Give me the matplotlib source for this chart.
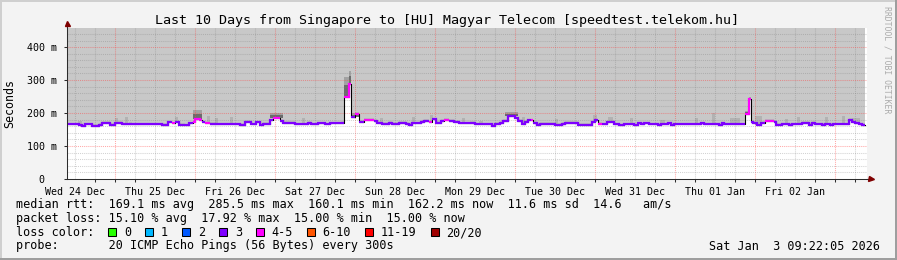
import matplotlib

matplotlib.use("Agg")
import matplotlib.pyplot as plt
from matplotlib.patches import Rectangle
import numpy as np

plt.rcParams["font.family"] = ["DejaVu Sans Mono"]

TITLE = "Last 10 Days from Singapore to [HU] Magyar Telecom [speedtest.telekom.hu]"
DAY_LABELS = ["Wed 24 Dec", "Thu 25 Dec", "Fri 26 Dec", "Sat 27 Dec", "Sun 28 Dec",
              "Mon 29 Dec", "Tue 30 Dec", "Wed 31 Dec", "Thu 01 Jan", "Fri 02 Jan"]
SPAN_H = 240.0          # hours shown
FIRST_MIDNIGHT_H = 14.4  # hours from left edge to first day line
FIRST_LABEL_H = 2.4
Y_MAX = 458.0            # ms
Y_TICKS = [0, 100, 200, 300, 400]
Y_TICK_LABELS = ["0  ", "100 m", "200 m", "300 m", "400 m"]

# median rtt as steps: end of each step (hours from left edge), median (ms),
# loss bin (index into LOSS_BINS)
RUN_END = [3.6, 4.5, 5.4, 7.5, 9.6, 10.5, 12.9, 14.4, 16.5, 18.6, 19.5, 28.5, 30.3,
           31.5, 32.4, 33.6, 35.4, 36.6, 37.8, 38.4, 39.9, 40.5, 41.4, 42.9, 45.3,
           51.9, 53.4, 55.2, 56.7, 57.9, 58.8, 60.9, 61.8, 63.9, 64.8, 68.4, 72.3,
           73.2, 75.3, 77.4, 78.9, 82.2, 83.1, 84.6, 85.2, 86.4, 87.6, 89.1, 92.1,
           93.0, 94.5, 96.6, 97.5, 99.6, 101.7, 102.6, 103.5, 106.2, 107.1, 108.6,
           109.5, 110.7, 112.2, 113.1, 114.6, 116.1, 117.6, 120.9, 122.4, 127.5,
           128.4, 129.9, 130.8, 132.3, 134.4, 135.3, 136.5, 137.4, 138.3, 139.2,
           139.8, 141.0, 141.9, 146.4, 148.5, 149.4, 153.3, 154.5, 157.5, 158.4,
           159.3, 160.5, 162.0, 162.6, 164.1, 165.6, 167.1, 170.1, 171.3, 172.2,
           173.1, 174.6, 177.3, 178.2, 180.3, 181.2, 182.1, 190.2, 191.1, 195.6,
           196.5, 197.1, 203.4, 204.6, 205.2, 205.8, 207.0, 208.2, 209.4, 212.1,
           212.7, 214.5, 216.6, 217.5, 220.5, 222.6, 223.5, 224.4, 226.5, 227.4,
           228.9, 229.8, 234.6, 235.5, 236.4, 237.6, 238.5, 239.4]
MEDIAN = [166, 164, 160, 166, 161, 164, 171, 164, 171, 166, 168, 166, 164,
          172, 169, 174, 165, 163, 169, 173, 182, 178, 172, 171, 167,
          166, 164, 173, 166, 172, 163, 167, 178, 186, 177, 170, 166,
          170, 166, 169, 166, 169, 171, 249, 287, 189, 197, 174, 179,
          176, 171, 168, 171, 168, 171, 168, 164, 169, 174, 177,
          172, 181, 171, 176, 179, 176, 173, 169, 170, 166,
          161, 167, 171, 176, 192, 184, 176, 166, 174, 178,
          178, 171, 164, 167, 164, 167, 171, 164, 165, 172,
          178, 167, 166, 172, 174, 166, 163, 166, 163, 169,
          166, 169, 166, 163, 166, 169, 163, 166, 169, 166,
          163, 169, 166, 197, 242, 174, 171, 165, 171, 177,
          174, 164, 166, 164, 166, 170, 164, 170, 166, 164,
          166, 164, 166, 180, 174, 171, 166, 164]
LOSS = [3, 3, 3, 3, 3, 3, 3, 3, 3, 3, 3, 3, 3,
        3, 4, 3, 3, 3, 3, 4, 4, 4, 3, 4, 3,
        3, 3, 3, 3, 3, 3, 3, 3, 4, 3, 3, 3,
        3, 3, 3, 3, 3, 3, 4, 4, 3, 4, 3, 4,
        3, 3, 3, 3, 3, 3, 3, 3, 3, 3, 3,
        4, 3, 3, 3, 4, 3, 3, 3, 3, 3,
        3, 3, 3, 3, 3, 3, 3, 3, 3, 3,
        4, 3, 3, 3, 3, 3, 3, 3, 3, 3,
        3, 4, 3, 3, 3, 3, 3, 3, 3, 3,
        3, 3, 3, 3, 3, 3, 3, 3, 3, 3,
        3, 3, 3, 4, 4, 3, 3, 3, 3, 4,
        3, 3, 3, 3, 3, 3, 3, 3, 3, 3,
        3, 3, 3, 3, 3, 3, 3, 3]

# smoke above the median: (start h, end h, top ms)
LIGHT_SMOKE = [(3.3, 4.5, 177), (14.4, 15.3, 185), (17.4, 18.3, 188), (32.4, 33.3, 188),
               (42.0, 42.9, 191), (44.4, 45.3, 185), (48.9, 49.8, 188), (70.5, 71.4, 186),
               (93.9, 94.8, 185), (103.5, 104.4, 188), (108.9, 109.8, 194),
               (118.5, 119.4, 185), (123.6, 124.8, 177), (136.5, 137.4, 188),
               (146.4, 147.3, 183), (157.8, 159.0, 194), (162.3, 163.8, 188),
               (168.9, 169.8, 185), (177.9, 179.4, 180), (188.4, 189.3, 185),
               (193.5, 194.4, 200), (198.9, 201.9, 185), (206.4, 208.5, 191),
               (215.4, 216.3, 183), (219.0, 219.9, 188), (227.4, 228.3, 189),
               (232.5, 233.4, 191), (235.5, 237.9, 185)]
DARK_SMOKE = [(37.8, 40.5, 209), (60.9, 64.8, 200), (83.1, 84.6, 310), (84.6, 85.2, 327),
              (85.2, 87.6, 200), (131.4, 135.3, 203), (203.4, 204.6, 205), (204.6, 205.2, 249)]

LOSS_BINS = ["0", "1", "2", "3", "4-5", "6-10", "11-19", "20/20"]
LOSS_COLORS = ["#26ff00", "#00b8ff", "#0059ff", "#7e00ff", "#ff00ff", "#ff5500", "#ff0000", "#a00000"]

LEGEND_RTT = "median rtt:  169.1 ms avg  285.5 ms max  160.1 ms min  162.2 ms now  11.6 ms sd  14.6   am/s"
LEGEND_LOSS = "packet loss: 15.10 % avg  17.92 % max  15.00 % min  15.00 % now"
LEGEND_PROBE = "probe:       20 ICMP Echo Pings (56 Bytes) every 300s"
STAMP = "Sat Jan  3 09:22:05 2026"

BG = "#f3f3f3"
AXIS = "#2c2c2c"
ARROW = "#7f0000"
W, H = 897, 260


def fx(x):
    return x / W


def fy(y):
    return 1 - y / H


fig = plt.figure(figsize=(W / 100, H / 100), dpi=100, facecolor=BG)
ax = fig.add_axes([fx(67), fy(179), 800 / W, 151 / H])
ax.set_facecolor("white")
ax.set_xlim(0, SPAN_H)
ax.set_ylim(0, Y_MAX)

ends = np.array(RUN_END)
starts = np.concatenate([[0.0], ends[:-1]])
med = np.array(MEDIAN, float)
sx = np.column_stack([starts, ends]).ravel()
sy = np.repeat(med, 2)

# lost pings -> smoke up to the top of the graph
ax.fill_between(sx, sy, Y_MAX, color="#c8c8c8", lw=0, zorder=1)
ax.fill_between(sx, sy, sy + 5, color="#bababa", lw=0, zorder=1.1)


def med_at(a, b):
    return med[min(np.searchsorted(ends, (a + b) / 2), len(med) - 1)]


for a, b, top in LIGHT_SMOKE:
    base = med_at(a, b)
    ax.fill_between([a, b], base, top, color="#b2b2b2", lw=0, zorder=1.2)
for a, b, top in DARK_SMOKE:
    base = med_at(a, b)
    ax.fill_between([a, b], base, top, color="#a2a2a2", lw=0, zorder=1.3)
    ax.fill_between([a, b], base, base + 0.6 * (top - base), color="#6c6c6c", lw=0, zorder=1.4)

# grid
for k in range(int((SPAN_H - FIRST_LABEL_H) // 6) + 1):
    h = FIRST_LABEL_H + 6 * k
    if k % 4 == 2:
        ax.axvline(h, color=(1, 0.25, 0.25, 0.45), lw=0.75, ls=(0, (1, 1)), zorder=2)
    else:
        ax.axvline(h, color=(0.5, 0.5, 0.5, 0.35), lw=0.75, ls=(0, (1, 1)), zorder=2)
for v in range(20, int(Y_MAX), 20):
    if v % 100 == 0:
        ax.axhline(v, color=(1, 0.25, 0.25, 0.45), lw=0.75, ls=(0, (1, 1)), zorder=2)
    else:
        ax.axhline(v, color=(0.5, 0.5, 0.5, 0.35), lw=0.75, ls=(0, (1, 1)), zorder=2)

# median line: black underneath, loss colour on top
ax.plot(sx, sy, color="black", lw=0.8, zorder=3)
n = len(MEDIAN)
i = 0
while i < n:
    j = i
    while j + 1 < n and LOSS[j + 1] == LOSS[i]:
        j += 1
    ax.plot(sx[2 * i:2 * j + 2], sy[2 * i:2 * j + 2], color=LOSS_COLORS[LOSS[i]],
            lw=1.6, zorder=4, solid_capstyle="butt", solid_joinstyle="miter")
    i = j + 1

# axes
for s_ in ("top", "right"):
    ax.spines[s_].set_visible(False)
for s_ in ("left", "bottom"):
    ax.spines[s_].set_color(AXIS)
    ax.spines[s_].set_linewidth(0.75)
    ax.spines[s_].set_zorder(5)
ax.plot([0, 0], [1, 1.03], transform=ax.transAxes, color=AXIS, lw=0.75, clip_on=False)
ax.plot([0], [1.03], marker="^", ms=3.6, color=ARROW, transform=ax.transAxes, clip_on=False)
ax.plot([1, 1.004], [0, 0], transform=ax.transAxes, color=AXIS, lw=0.75, clip_on=False)
ax.plot([1.005], [0], marker=">", ms=3.6, color=ARROW, transform=ax.transAxes, clip_on=False)

label_pos = [FIRST_LABEL_H + 24 * k for k in range(len(DAY_LABELS))]
ax.set_xticks(label_pos, DAY_LABELS)
ax.set_xticks([FIRST_LABEL_H + 6 * k for k in range(40)], minor=True)
ax.tick_params(axis="x", which="major", length=0, pad=6, labelsize=7.2)
ax.tick_params(axis="x", which="minor", length=2, width=0.75, color=AXIS)
ax.set_yticks(Y_TICKS, Y_TICK_LABELS)
ax.tick_params(axis="y", which="major", length=2.5, width=0.75, color=AXIS, pad=5, labelsize=7.2)

# texts
fig.text(fx(447), fy(24.3), TITLE, ha="center", va="baseline", fontsize=9.6)
fig.text(fx(10), fy(103.5), "Seconds", rotation=90, ha="center", va="center", fontsize=8.4)
fig.text(fx(887), fy(60), "RRDTOOL / TOBI OETIKER", rotation=270, ha="center", va="center",
         fontsize=5.9, color="#ababab")

CH = 7.1
fig.text(fx(16), fy(208), LEGEND_RTT, ha="left", va="baseline", fontsize=8.5)
fig.text(fx(16), fy(222), LEGEND_LOSS, ha="left", va="baseline", fontsize=8.5)
fig.text(fx(16), fy(236), "loss color:", ha="left", va="baseline", fontsize=8.5)
fig.text(fx(16), fy(249.5), LEGEND_PROBE, ha="left", va="baseline", fontsize=8.5)
fig.text(fx(880), fy(249.5), STAMP, ha="right", va="baseline", fontsize=8.5)

x = 16 + 13 * CH
for lab, col in zip(LOSS_BINS, LOSS_COLORS):
    fig.add_artist(Rectangle((fx(x), fy(235.5)), 8 / W, 8 / H, transform=fig.transFigure,
                             facecolor=col, edgecolor="black", lw=0.75))
    lx = x + 2.2 * CH
    fig.text(fx(lx), fy(236), lab, ha="left", va="baseline", fontsize=8.5)
    x = lx + (len(lab) + 2) * CH

# 3-D frame
fig.add_artist(Rectangle((0, 1 - 2 / H), 1, 2 / H, transform=fig.transFigure, color="#cfcfcf", lw=0))
fig.add_artist(Rectangle((0, 0), 2 / W, 1, transform=fig.transFigure, color="#cfcfcf", lw=0))
fig.add_artist(Rectangle((0, 0), 1, 2 / H, transform=fig.transFigure, color="#9e9e9e", lw=0))
fig.add_artist(Rectangle((1 - 2 / W, 0), 2 / W, 1, transform=fig.transFigure, color="#9e9e9e", lw=0))

fig.savefig("out.png", dpi=100, facecolor=BG)
